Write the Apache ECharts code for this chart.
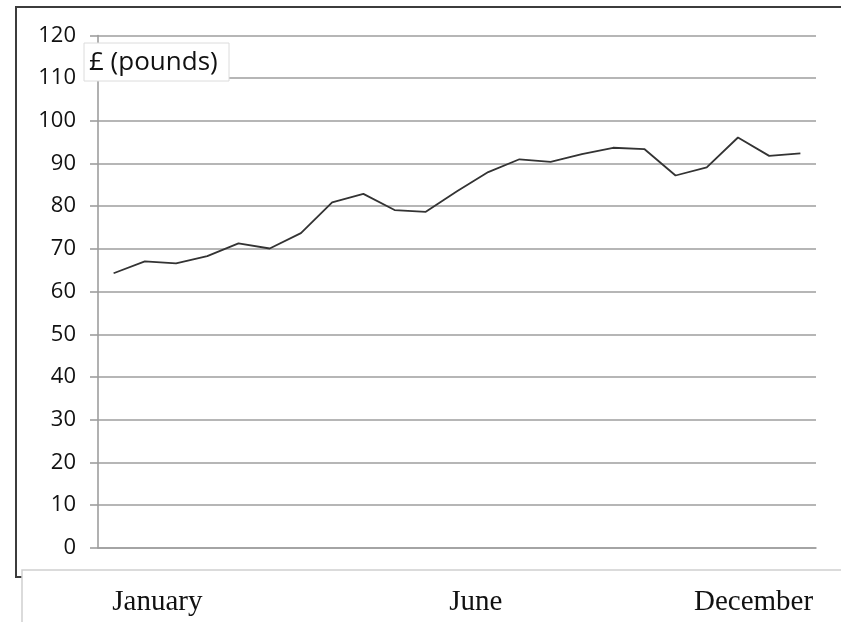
<!DOCTYPE html>
<html>
<head>
<meta charset="utf-8">
<script src="https://cdn.jsdelivr.net/npm/echarts@6/dist/echarts.min.js"></script>
<style>html,body{margin:0;padding:0;background:#fff;}#c{width:841px;height:622px;}</style>
</head>
<body>
<div id="c"></div>
<script>
// Data
const categories = ['1','2','3','4','5','6','7','8','9','10','11','12','13','14','15','16','17','18','19','20','21','22','23'];
const values = [64.3, 67.1, 66.6, 68.3, 71.3, 70.1, 73.7, 80.9, 82.9, 79.1, 78.7, 83.5, 88.0, 91.0, 90.4, 92.2, 93.7, 93.4, 87.2, 89.1, 96.1, 91.8, 92.4];
const monthLabels = ['January', 'June', 'December'];
const monthAt = [1.9, 12.1, 21.0];
const yMin = 0, yMax = 120, yStep = 10;
const unitLabel = '£ (pounds)';

const chart = echarts.init(document.getElementById('c'), null, {renderer: 'canvas'});
const gridCol = '#9e9e9e';
chart.setOption({
  animation: false,
  backgroundColor: '#fff',
  grid: {left: 98, right: 25, top: 35.5, bottom: 74.3, containLabel: false},
  xAxis: [{
    type: 'category', data: categories, boundaryGap: true,
    axisLine: {show: true, lineStyle: {color: gridCol, width: 1.6}},
    axisTick: {show: false}, axisLabel: {show: false}, splitLine: {show: false}
  }, {
    type: 'value', min: 0, max: categories.length, position: 'bottom', offset: 55, z: 50,
    axisLine: {show: false}, axisTick: {show: false}, splitLine: {show: false},
    axisLabel: {
      show: true, customValues: monthAt, margin: 0, verticalAlign: 'middle',
      fontFamily: 'Liberation Serif', fontSize: 29, color: '#111',
      formatter: function (v) {
        for (let i = 0; i < monthAt.length; i++) if (Math.abs(monthAt[i] - v) < 1e-6) return monthLabels[i];
        return '';
      }
    }
  }],
  yAxis: {
    type: 'value', min: yMin, max: yMax, interval: yStep,
    axisLine: {show: true, lineStyle: {color: gridCol, width: 1.6}},
    axisTick: {show: true, inside: false, length: 8, lineStyle: {color: gridCol, width: 1.6}},
    axisLabel: {margin: 22, fontFamily: 'Open Sans', fontSize: 22, color: '#111'},
    splitLine: {show: true, lineStyle: {color: gridCol, width: 1.6}}
  },
  series: [{
    type: 'line', xAxisIndex: 0, data: values, showSymbol: false, symbol: 'none',
    lineStyle: {color: '#333', width: 1.8}
  }],
  graphic: [
    {type: 'rect', z: 5, shape: {x: 16, y: 7, width: 900, height: 570},
     style: {fill: 'none', stroke: '#3c3c3c', lineWidth: 2}},
    {type: 'rect', z: 10, shape: {x: 22, y: 570, width: 900, height: 100},
     style: {fill: '#fff', stroke: '#d0d0d0', lineWidth: 1.5}},
    {type: 'rect', z: 60, shape: {x: 84, y: 43, width: 145, height: 38},
     style: {fill: '#fff', stroke: '#dcdcdc', lineWidth: 1}},
    {type: 'text', z: 61, x: 89, y: 63,
     style: {text: unitLabel, font: '26px "Open Sans"', fill: '#111', textVerticalAlign: 'middle', verticalAlign: 'middle'}}
  ]
});
</script>
</body>
</html>
